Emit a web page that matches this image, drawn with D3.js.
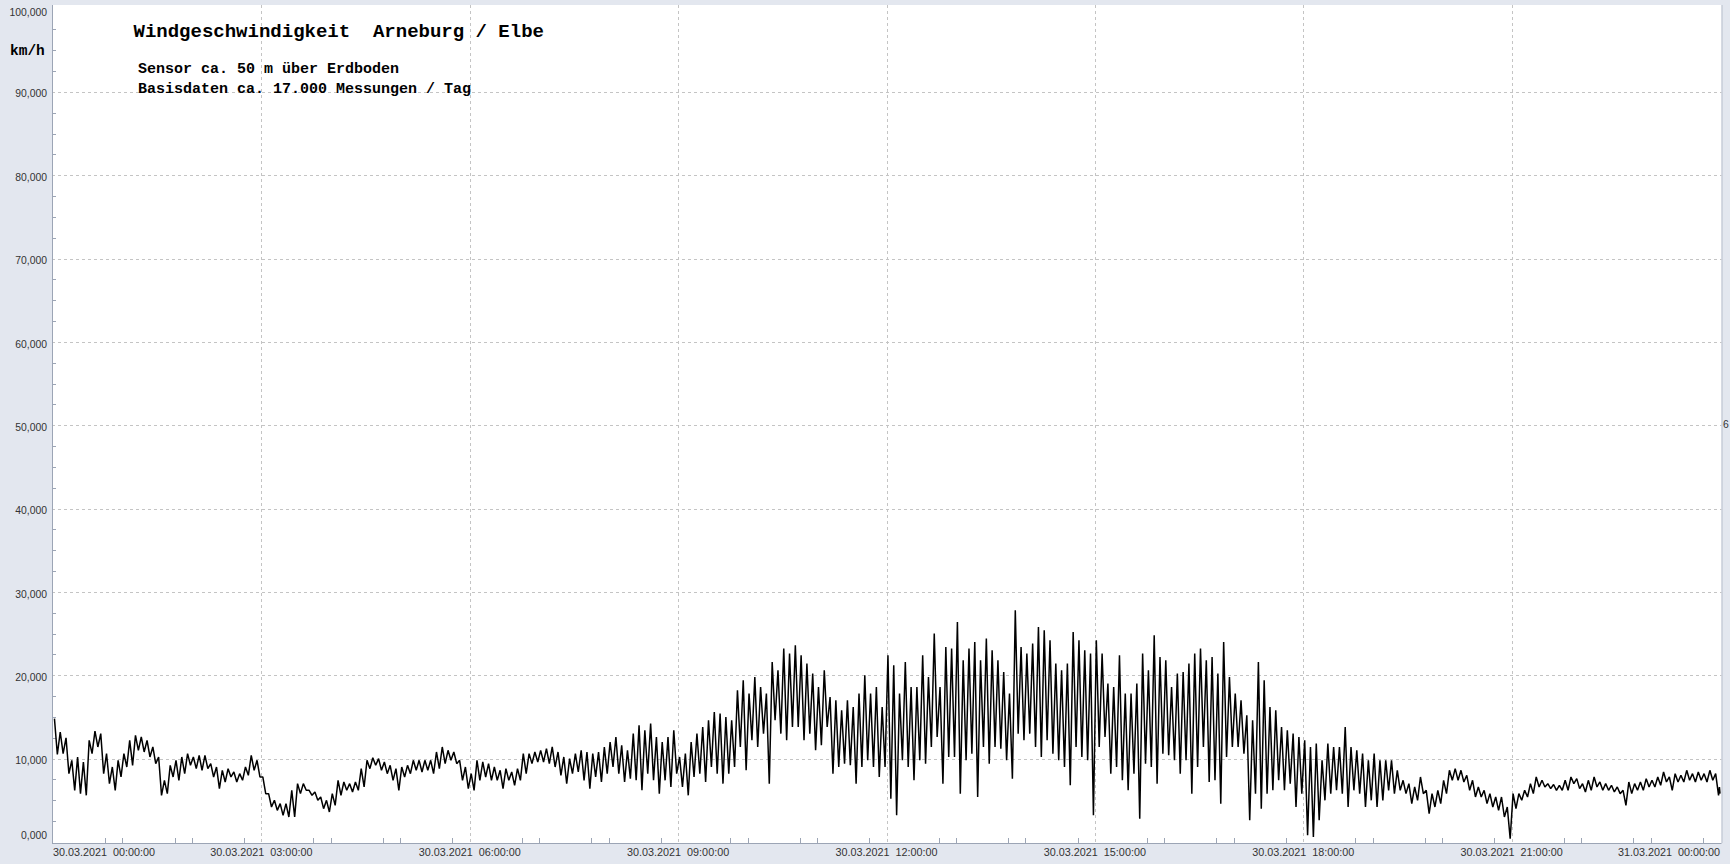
<!DOCTYPE html>
<html>
<head>
<meta charset="utf-8">
<script src="https://cdn.jsdelivr.net/npm/d3@7"></script>
<style>
  html, body { margin: 0; padding: 0; background: #e3e7ef; }
  svg { display: block; }
  text { white-space: pre; }
</style>
</head>
<body>
<svg id="chart" width="1730" height="864"></svg>
<script>
// ---------- DATA ----------
// 5-minute buckets from 30.03.2021 00:00 to 31.03.2021 00:00 (289 buckets)
// highest / lowest wind speed (km/h) seen inside each bucket
const hiValues = [
  14.8, 13.2, 12.5, 9.8, 10.2, 9.6, 12.2, 13.3, 13, 10.6,
  9, 9.8, 10.6, 12.2, 12.8, 12.6, 12.2, 11.4, 10.2, 7.4,
  9.2, 9.8, 10.2, 10.6, 10.2, 10.4, 10.4, 9.4, 9, 8.6,
  8.8, 8.4, 8.2, 9, 10.4, 9.8, 7.8, 5.8, 5, 4.6,
  4.6, 6.2, 7, 7, 6.2, 6, 5.4, 5, 5.8, 7.4,
  7.2, 7, 7.2, 8.8, 9.8, 10.1, 10, 9.6, 9.2, 8.8,
  9, 9.2, 9.8, 9.8, 9.8, 9.8, 10.8, 11.4, 11, 10.8,
  9.8, 9, 8.2, 9.8, 9.6, 9.4, 9, 8.6, 8.8, 8.4,
  8.8, 10.6, 10.6, 10.8, 11, 11.2, 11.4, 10.8, 10.2, 10,
  10.6, 11, 10.8, 10.6, 10.8, 11.4, 12, 12.6, 11.6, 11,
  13, 14, 13.4, 14.2, 12.6, 12, 12.6, 13.4, 10.2, 10.6,
  12, 13, 13.8, 14.6, 15.6, 15.4, 15, 14.6, 18.2, 19.4,
  17.8, 19.8, 18.6, 17.8, 21.6, 20.6, 23.2, 22.6, 23.6, 22.4,
  21.4, 20.2, 18.6, 20.6, 17.4, 17, 15.8, 17, 16.2, 17.8,
  20, 17.8, 18.6, 16.2, 22.4, 21.2, 17.8, 21.6, 18.6, 18.6,
  22.4, 19.8, 25, 18.6, 23.4, 23.2, 26.4, 21.8, 23.2, 24,
  21.8, 24.4, 23, 21.8, 20.4, 17.8, 27.8, 23.4, 22.6, 23.8,
  25.8, 25.4, 24.2, 21.4, 20.6, 21.4, 25.2, 24.2, 23, 22.6,
  24.2, 22.6, 19, 18.6, 22.4, 17.8, 17.8, 19, 22.6, 20.6,
  24.8, 22.2, 21.8, 18.6, 20.2, 20.4, 21.4, 22.6, 23.2, 21.8,
  22.2, 20.2, 24, 19.8, 17.8, 17, 15.2, 14.6, 21.6, 19.4,
  16.2, 15.8, 13.8, 13.4, 13, 12.6, 12.2, 11.4, 11.8, 9.8,
  11.8, 11.4, 11.4, 13.8, 11.4, 11, 10.6, 9.8, 10.6, 9.8,
  9.8, 9.8, 8.6, 7.4, 7, 6.6, 7.8, 6.2, 5.8, 6.2,
  7.4, 8.6, 8.8, 8.6, 8, 7.4, 6.6, 6.2, 5.8, 5.4,
  5.4, 4.2, 5.8, 5.8, 6.2, 7, 7.8, 7.4, 7, 6.9,
  6.8, 7.4, 7.8, 7.6, 7, 7.4, 7.8, 7.2, 7, 6.8,
  6.6, 6.2, 7.2, 7, 7.2, 7.6, 7.4, 7.8, 8.4, 7.8,
  8.2, 8, 8.6, 8.2, 8.4, 8.2, 8.6, 8.2, 6.6
];
const loValues = [
  10.5, 10.6, 8.2, 6.2, 5.8, 5.6, 10.6, 11.4, 8.2, 7,
  6.2, 7.8, 9, 9.2, 11, 10.8, 10.2, 9.4, 5.6, 5.8,
  7.8, 7.4, 8.2, 9.2, 8.8, 8.6, 8.8, 7.8, 6.4, 7.2,
  7.8, 7.2, 7.4, 8, 8.6, 7.8, 5.8, 4.2, 3.8, 3.2,
  3, 3, 5.8, 6.2, 5.6, 5, 4, 3.6, 4.4, 5.6,
  6.2, 6, 6.2, 6.6, 8.8, 9.2, 8.6, 8.2, 7.4, 6.2,
  7.8, 8.2, 8.6, 8.4, 8.6, 8.2, 8.8, 9.4, 9.8, 9.4,
  7.4, 6.4, 6.2, 7.4, 7.8, 7.4, 7.4, 6.4, 7.4, 6.8,
  7.4, 8.2, 9.4, 9.6, 9.6, 9.4, 9, 8, 7, 8.2,
  8.4, 7.4, 6.4, 7.8, 7.2, 8.2, 9, 8.2, 7.2, 7.6,
  7.4, 6.2, 8.2, 7.4, 5.8, 7.4, 6.6, 8.2, 6.6, 5.6,
  7.8, 8.2, 7.2, 9, 8.2, 7, 8.2, 9, 11.4, 8.6,
  12.2, 11.4, 13, 7, 14.6, 13, 12.2, 13.8, 13.8, 12.2,
  13, 11, 11.6, 13.8, 8.2, 9, 9.4, 9.2, 7, 9,
  9.8, 9, 7.8, 9, 5.2, 3.2, 9.8, 9, 7.4, 9.8,
  9.4, 11.4, 12.6, 7, 10.2, 10.2, 5.8, 9.8, 10.6, 5.4,
  11.4, 9.4, 11.4, 11.2, 9.8, 7.6, 13, 12.2, 13, 11.4,
  10.2, 12.2, 10.6, 9.8, 9, 6.8, 11.4, 10.2, 9.8, 3.2,
  11.4, 12.6, 8.2, 9, 7.4, 6.2, 8.2, 2.8, 9.4, 9,
  7, 10.6, 10.4, 9.8, 8.2, 9.8, 5.8, 9, 11.4, 7.2,
  7.4, 4.6, 10.2, 11.4, 11.4, 10.6, 2.6, 5.8, 4, 5.8,
  6.2, 7.4, 6.2, 7, 4.2, 5.8, 0.8, 0.6, 2.6, 5,
  5.8, 6.2, 5.8, 4.2, 6.2, 5.8, 4.2, 5, 4.2, 5,
  6.2, 5.8, 6.2, 5.8, 4.6, 5, 5.8, 3.4, 4.2, 4.6,
  5.8, 7.4, 7.4, 7.2, 6.2, 5.4, 5.4, 4.6, 4.2, 3.8,
  3, 0.4, 4, 5, 5.4, 5.8, 6.6, 6.6, 6.4, 6.2,
  6.2, 6.2, 7, 6.4, 6, 6.2, 6.6, 6.2, 6.2, 6,
  5.8, 4.4, 5.8, 6.2, 6.2, 6.6, 6.6, 6.8, 7.2, 6.2,
  7.2, 7.2, 7.4, 7.2, 7.4, 7.2, 7.4, 5.6, 5.8
];
const yTickValues = [0, 10, 20, 30, 40, 50, 60, 70, 80, 90, 100];
const yTickLabels = ["0,000", "10,000", "20,000", "30,000", "40,000", "50,000",
                     "60,000", "70,000", "80,000", "90,000", "100,000"];
const titleText = "Windgeschwindigkeit  Arneburg / Elbe";
const subTexts = ["Sensor ca. 50 m über Erdboden", "Basisdaten ca. 17.000 Messungen / Tag"];
const unitText = "km/h";
const startTime = new Date(2021, 2, 30, 0, 0, 0);
const endTime = new Date(2021, 2, 31, 0, 0, 0);
const bucketMinutes = 5;

// ---------- LAYOUT ----------
const svg = d3.select("#chart");
const plot = { left: 52, right: 1721.5, top: 5, bottom: 843 };

const x = d3.scaleTime().domain([startTime, endTime]).range([53, 1720]);
const y = d3.scaleLinear().domain([0, 100]).range([842, 8.5]);

const axisColor = "#9ca5b5";
const gridColor = "#c4c4c4";
const labelFont = "'Liberation Sans', Arial, sans-serif";
const monoFont = "'Liberation Mono', 'Courier New', monospace";

// plot background
svg.append("rect")
  .attr("x", plot.left).attr("y", plot.top)
  .attr("width", plot.right - plot.left).attr("height", plot.bottom - plot.top)
  .attr("fill", "#ffffff");

// horizontal grid lines
svg.append("g").selectAll("line")
  .data(yTickValues.filter(v => v > 0 && v < 100))
  .join("line")
  .attr("x1", plot.left).attr("x2", plot.right)
  .attr("y1", d => Math.round(y(d)) + 0.5).attr("y2", d => Math.round(y(d)) + 0.5)
  .attr("stroke", gridColor).attr("stroke-dasharray", "3,3");

// vertical grid lines (every 3 hours)
const majorX = d3.timeHour.every(3).range(startTime, d3.timeMinute.offset(endTime, 1));
svg.append("g").selectAll("line")
  .data(majorX.filter(d => d > startTime && d < endTime))
  .join("line")
  .attr("x1", d => Math.round(x(d)) + 0.5).attr("x2", d => Math.round(x(d)) + 0.5)
  .attr("y1", plot.top).attr("y2", plot.bottom)
  .attr("stroke", gridColor).attr("stroke-dasharray", "3,3");

// minor y ticks (every 2.5)
const minorY = d3.range(0, 100.01, 2.5).filter(v => v % 10 !== 0);
svg.append("g").selectAll("line")
  .data(minorY)
  .join("line")
  .attr("x1", plot.left).attr("x2", plot.left + 4)
  .attr("y1", d => Math.round(y(d)) + 0.5).attr("y2", d => Math.round(y(d)) + 0.5)
  .attr("stroke", axisColor);

// minor x ticks (every 45 minutes)
const minorX = d3.timeMinute.every(45).range(startTime, endTime)
  .filter(d => (d - startTime) % (3 * 3600e3) !== 0);
svg.append("g").selectAll("line")
  .data(minorX)
  .join("line")
  .attr("x1", d => Math.round(x(d)) + 0.5).attr("x2", d => Math.round(x(d)) + 0.5)
  .attr("y1", plot.bottom).attr("y2", plot.bottom - 5)
  .attr("stroke", axisColor);

// data line: high / low of each bucket, in time order
const pts = [];
const last = hiValues.length - 1;
hiValues.forEach((hv, k) => {
  const t0 = +startTime + k * bucketMinutes * 60e3;
  if (k < last) {
    pts.push({ t: new Date(t0 + 1.25 * 60e3), v: hv });
    pts.push({ t: new Date(t0 + 3.75 * 60e3), v: loValues[k] });
  } else {
    pts.push({ t: new Date(t0 - 0.5 * 60e3), v: hv });
    pts.push({ t: new Date(t0), v: loValues[k] });
  }
});
svg.append("clipPath").attr("id", "clip").append("rect")
  .attr("x", plot.left).attr("y", plot.top)
  .attr("width", plot.right - plot.left).attr("height", plot.bottom - plot.top);
svg.append("path")
  .datum(pts)
  .attr("clip-path", "url(#clip)")
  .attr("fill", "none")
  .attr("stroke", "#000")
  .attr("stroke-width", 1.5)
  .attr("stroke-linejoin", "bevel")
  .attr("d", d3.line().x(d => x(d.t)).y(d => y(d.v)));

// axis border lines
svg.append("line").attr("x1", plot.left + 0.5).attr("x2", plot.left + 0.5)
  .attr("y1", plot.top).attr("y2", plot.bottom).attr("stroke", axisColor);
svg.append("line").attr("x1", plot.left).attr("x2", plot.right)
  .attr("y1", plot.bottom + 0.5).attr("y2", plot.bottom + 0.5).attr("stroke", axisColor);
svg.append("line").attr("x1", plot.right + 0.5).attr("x2", plot.right + 0.5)
  .attr("y1", plot.top).attr("y2", plot.bottom).attr("stroke", "#b8bfcc");

// y labels
svg.append("g").selectAll("text")
  .data(yTickValues)
  .join("text")
  .attr("x", 47)
  .attr("y", d => Math.max(12.5, Math.min(835.5, y(d) + 2)))
  .attr("dy", "0.35em")
  .attr("text-anchor", "end")
  .attr("font-family", labelFont).attr("font-size", "10.4px").attr("fill", "#333")
  .text((d, i) => yTickLabels[i]);

// x labels
const fmt = d3.timeFormat("%d.%m.%Y  %H:%M:%S");
svg.append("g").selectAll("text")
  .data(majorX)
  .join("text")
  .attr("x", (d, i) => i === 0 ? 53 : (i === majorX.length - 1 ? 1720 : x(d)))
  .attr("y", 852).attr("dy", "0.35em")
  .attr("text-anchor", (d, i) => i === 0 ? "start" : (i === majorX.length - 1 ? "end" : "middle"))
  .attr("font-family", labelFont).attr("font-size", "10.8px").attr("fill", "#333")
  .text(d => fmt(d));

// title & notes
svg.append("text").attr("x", 133.5).attr("y", 30).attr("dy", "0.35em")
  .attr("font-family", monoFont).attr("font-weight", "bold").attr("font-size", "19px")
  .attr("fill", "#000").text(titleText);
svg.append("g").selectAll("text").data(subTexts).join("text")
  .attr("x", 138).attr("y", (d, i) => 67.5 + i * 20).attr("dy", "0.35em")
  .attr("font-family", monoFont).attr("font-weight", "bold").attr("font-size", "15px")
  .attr("fill", "#000").text(d => d);
svg.append("text").attr("x", 10).attr("y", 50).attr("dy", "0.35em")
  .attr("font-family", monoFont).attr("font-weight", "bold").attr("font-size", "14.5px")
  .attr("fill", "#000").text(unitText);

// small right-edge marker
svg.append("text").attr("x", 1723).attr("y", y(50) - 1).attr("dy", "0.35em")
  .attr("font-family", labelFont).attr("font-size", "10.4px").attr("fill", "#333")
  .text("6");
</script>
</body>
</html>
